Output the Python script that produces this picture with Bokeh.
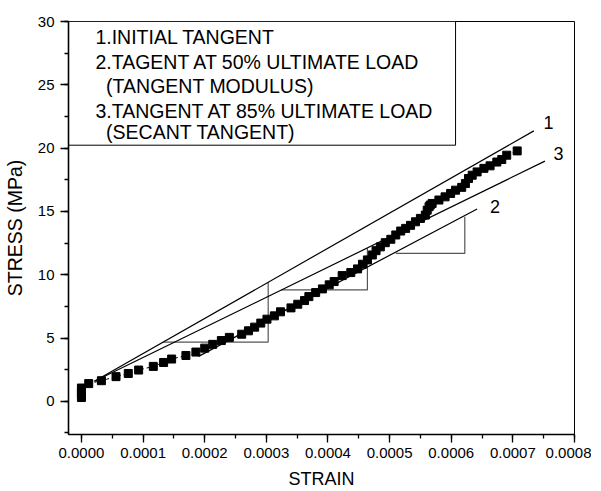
from bokeh.plotting import figure
from bokeh.models import Range1d, SingleIntervalTicker, PrintfTickFormatter
from bokeh.core.properties import value
from bokeh.embed import file_html
from bokeh.resources import INLINE

# ---- measured stress-strain data ----
strain = [0.0, 0.0, 0.0, 0.0, 0.0000118, 0.0000324, 0.0000561, 0.000076, 0.0000928,
          0.0001166, 0.0001333, 0.0001463, 0.0001695, 0.0001857, 0.0002, 0.000213,
          0.000227, 0.00024, 0.00026, 0.000271, 0.000281, 0.000291, 0.000301, 0.000313,
          0.000323, 0.00034, 0.000351, 0.000362, 0.000369, 0.00038, 0.000391, 0.000402,
          0.00041, 0.000423, 0.000437, 0.000448, 0.000456, 0.000464, 0.000472, 0.000478,
          0.000485, 0.000493, 0.000502, 0.00051, 0.000518, 0.000526, 0.000534, 0.000542,
          0.00055, 0.000558, 0.000561, 0.000564, 0.000566, 0.000569, 0.00058, 0.00059,
          0.000599, 0.000607, 0.000617, 0.000623, 0.000628, 0.000634, 0.000642, 0.000653,
          0.000663, 0.000674, 0.000682, 0.00069, 0.000707]
stress = [0.3, 0.55, 0.8, 1.05, 1.4, 1.63, 1.95, 2.2, 2.47,
          2.76, 3.07, 3.34, 3.62, 3.89, 4.2, 4.5,
          4.8, 5.05, 5.3, 5.57, 5.86, 6.18, 6.49, 6.75,
          7.07, 7.38, 7.67, 7.96, 8.27, 8.59, 8.88, 9.2,
          9.46, 9.93, 10.17, 10.46, 10.83, 11.17, 11.56, 11.9,
          12.2, 12.53, 12.8, 13.14, 13.45, 13.66, 13.9, 14.18,
          14.45, 14.71, 15.1, 15.37, 15.5, 15.63, 15.9, 16.15,
          16.42, 16.68, 16.9, 17.2, 17.6, 17.86, 18.12, 18.4,
          18.6, 18.9, 19.1, 19.44, 19.78]

# ---- tangent lines (1 initial, 2 at 50%, 3 at 85%) ----
tangent_names = ["1", "2", "3"]
tangent_x0 = [0.000021, 0.000190, 0.000021]
tangent_y0 = [1.58, 3.55, 1.58]
tangent_x1 = [0.000734, 0.000642, 0.000752]
tangent_y1 = [21.36, 15.19, 18.97]
tangent_label_x = [0.000758, 0.000671, 0.000774]
tangent_label_y = [22.0, 15.42, 19.57]

# ---- slope triangles ----
tri_x_start = [0.000133, 0.000324, 0.000510]
tri_x_end = [0.000303, 0.000464, 0.000622]
tri_y_low = [4.68, 8.80, 11.69]
tri_y_high = [9.41, 12.09, 14.58]

# ---- note box ----
note_lines = ["1.INITIAL TANGENT", "2.TAGENT AT 50% ULTIMATE LOAD", "(TANGENT MODULUS)",
              "3.TANGENT AT 85% ULTIMATE LOAD", "(SECANT TANGENT)"]
note_indent = [False, False, True, False, True]
note_y = [28.74, 26.77, 24.88, 22.91, 21.25]

x_ticks_interval = 0.0001
y_ticks_interval = 5

FONT = "Liberation Sans"

p = figure(frame_width=506, frame_height=413, min_border_left=62, min_border_right=17,
           min_border_top=21, min_border_bottom=46,
           output_backend="svg", toolbar_location=None,
           x_range=Range1d(-0.000021, 0.0008), y_range=Range1d(-2.62, 30))

p.xgrid.visible = False
p.ygrid.visible = False
p.outline_line_color = "black"
p.outline_line_width = 1
p.background_fill_color = "white"
p.border_fill_color = "white"

p.xaxis.ticker = SingleIntervalTicker(interval=x_ticks_interval, num_minor_ticks=2)
p.yaxis.ticker = SingleIntervalTicker(interval=y_ticks_interval, num_minor_ticks=2)
p.xaxis.formatter = PrintfTickFormatter(format="%.4f")
p.xaxis.axis_label = "STRAIN"
p.yaxis.axis_label = "STRESS (MPa)"
for ax in (p.xaxis[0], p.yaxis[0]):
    ax.axis_line_width = 1.6
    ax.axis_line_color = "black"
    ax.major_tick_line_color = "black"
    ax.minor_tick_line_color = "black"
    ax.major_tick_line_width = 1.3
    ax.minor_tick_line_width = 1.3
    ax.major_tick_out = 8
    ax.major_tick_in = 0
    ax.minor_tick_out = 4
    ax.minor_tick_in = 0
    ax.major_label_text_font = FONT
    ax.major_label_text_font_size = "15px"
    ax.major_label_text_color = "black"
    ax.axis_label_text_font = FONT
    ax.axis_label_text_font_style = "normal"
    ax.axis_label_text_color = "black"
p.xaxis.axis_label_text_font_size = "18px"
p.yaxis.axis_label_text_font_size = "19.5px"
p.xaxis.major_label_standoff = 5
p.xaxis.axis_label_standoff = 8
p.yaxis.major_label_standoff = 6
p.yaxis.axis_label_standoff = 9

# note box
p.quad(left=[-0.000021], right=[0.000607], bottom=[20.23], top=[30],
       fill_color="white", line_color="black", line_width=1)
nx = [0.0000227 if not ind else 0.0000400 for ind in note_indent]
p.text(x=nx, y=note_y, text=note_lines, text_font=value(FONT), text_font_size="19.5px",
       text_baseline="middle", text_align="left", text_color="black")

# slope triangles
for xs, xe, yl, yh in zip(tri_x_start, tri_x_end, tri_y_low, tri_y_high):
    p.line([xs, xe, xe], [yl, yl, yh], line_color="#555555", line_width=1.2)

# tangent lines
p.segment(x0=tangent_x0, y0=tangent_y0, x1=tangent_x1, y1=tangent_y1,
          line_color="black", line_width=1.2)
p.text(x=tangent_label_x, y=tangent_label_y, text=tangent_names, text_font=value(FONT),
       text_font_size="18px", text_align="center", text_baseline="middle", text_color="black")

# data
p.line(strain, stress, line_color="black", line_width=1, line_dash="3 3")
p.scatter(strain, stress, marker="square", size=8, fill_color="black", line_color="black")

open("out.html", "w").write(file_html(p, INLINE))
